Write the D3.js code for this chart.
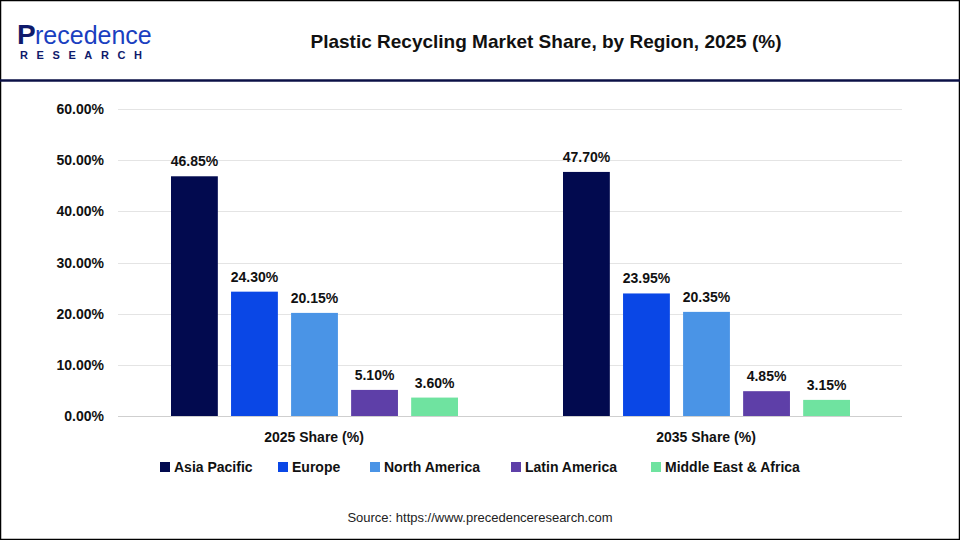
<!DOCTYPE html>
<html>
<head>
<script src="https://d3js.org/d3.v7.min.js"></script>
<style>
body { margin:0; background:#fff; font-family: Arial, "Liberation Sans", sans-serif; }
</style>
</head>
<body>
<svg id="chart" width="960" height="540"></svg>
<script>
var groups = ["2025 Share (%)", "2035 Share (%)"];
var regions = ["Asia Pacific", "Europe", "North America", "Latin America", "Middle East & Africa"];
var colors = ["#020a4f", "#0a47e6", "#4a94e6", "#5e3fa8", "#6fe3a0"];
var values2025 = [46.85, 24.30, 20.15, 5.10, 3.60];
var values2035 = [47.70, 23.95, 20.35, 4.85, 3.15];
var yTicks = [0, 10, 20, 30, 40, 50, 60];

var series = [values2025, values2035];
var svg = d3.select("#chart");

// frame + header
svg.append("rect").attr("x", 0.5).attr("y", 0.5).attr("width", 959).attr("height", 539)
  .attr("fill", "none").attr("stroke", "#000").attr("stroke-width", 1.5);
svg.append("line").attr("x1", 0).attr("x2", 960).attr("y1", 80.5).attr("y2", 80.5)
  .attr("stroke", "#0b1046").attr("stroke-width", 2.5);

// logo
var logo = svg.append("g");
logo.append("text").attr("x", 17).attr("y", 44).attr("font-size", 28).attr("font-weight", "bold")
  .attr("fill", "#0f1a6b").text("P");
logo.append("text").attr("x", 35).attr("y", 44).attr("font-size", 25)
  .attr("fill", "#1a3fc0").text("recedence");
logo.append("text").attr("x", 20).attr("y", 59).attr("font-size", 11).attr("font-weight", "bold")
  .attr("fill", "#0f1a6b").attr("letter-spacing", 8.6).text("RESEARCH");

svg.append("text").attr("x", 546).attr("y", 48).attr("text-anchor", "middle")
  .attr("font-size", 19).attr("font-weight", "bold").attr("fill", "#111")
  .text("Plastic Recycling Market Share, by Region, 2025 (%)");

var y = d3.scaleLinear().domain([0, 60]).range([416, 109]);
var x0 = d3.scaleBand().domain(groups).range([118, 902]);
var x1 = d3.scaleBand().domain(regions).range([53, 340]).paddingInner(0.22);

// grid
svg.append("g").selectAll("line").data(yTicks).join("line")
  .attr("x1", 118).attr("x2", 902)
  .attr("y1", d => Math.round(y(d)) + 0.5).attr("y2", d => Math.round(y(d)) + 0.5)
  .attr("stroke", d => d === 0 ? "#cfcfcf" : "#e4e4e4");

svg.append("g").selectAll("text").data(yTicks).join("text")
  .attr("x", 104).attr("y", d => y(d) + 5).attr("text-anchor", "end")
  .attr("font-size", 14).attr("font-weight", "bold").attr("fill", "#111")
  .text(d => d.toFixed(2) + "%");

groups.forEach(function (g, gi) {
  var gg = svg.append("g").attr("transform", "translate(" + x0(g) + ",0)");
  gg.selectAll("rect").data(series[gi]).join("rect")
    .attr("x", (d, i) => x1(regions[i])).attr("width", x1.bandwidth())
    .attr("y", d => y(d)).attr("height", d => y(0) - y(d))
    .attr("fill", (d, i) => colors[i]);
  gg.selectAll("text").data(series[gi]).join("text")
    .attr("x", (d, i) => x1(regions[i]) + x1.bandwidth() / 2)
    .attr("y", d => y(d) - 10).attr("text-anchor", "middle")
    .attr("font-size", 14).attr("font-weight", "bold").attr("fill", "#111")
    .text(d => d.toFixed(2) + "%");
  svg.append("text").attr("x", x0(g) + x0.bandwidth() / 2).attr("y", 442)
    .attr("text-anchor", "middle").attr("font-size", 14).attr("font-weight", "bold")
    .attr("fill", "#111").text(g);
});

// legend
var legendX = [160, 278, 370, 511, 651];
var lg = svg.append("g").selectAll("g").data(regions).join("g")
  .attr("transform", (d, i) => "translate(" + legendX[i] + ",462)");
lg.append("rect").attr("width", 10).attr("height", 10).attr("fill", (d, i) => colors[i]);
lg.append("text").attr("x", 14).attr("y", 10).attr("font-size", 14).attr("font-weight", "bold")
  .attr("fill", "#111").text(d => d);

svg.append("text").attr("x", 480).attr("y", 522).attr("text-anchor", "middle")
  .attr("font-size", 13).attr("fill", "#222").text("Source: https://www.precedenceresearch.com");
</script>
</body>
</html>
